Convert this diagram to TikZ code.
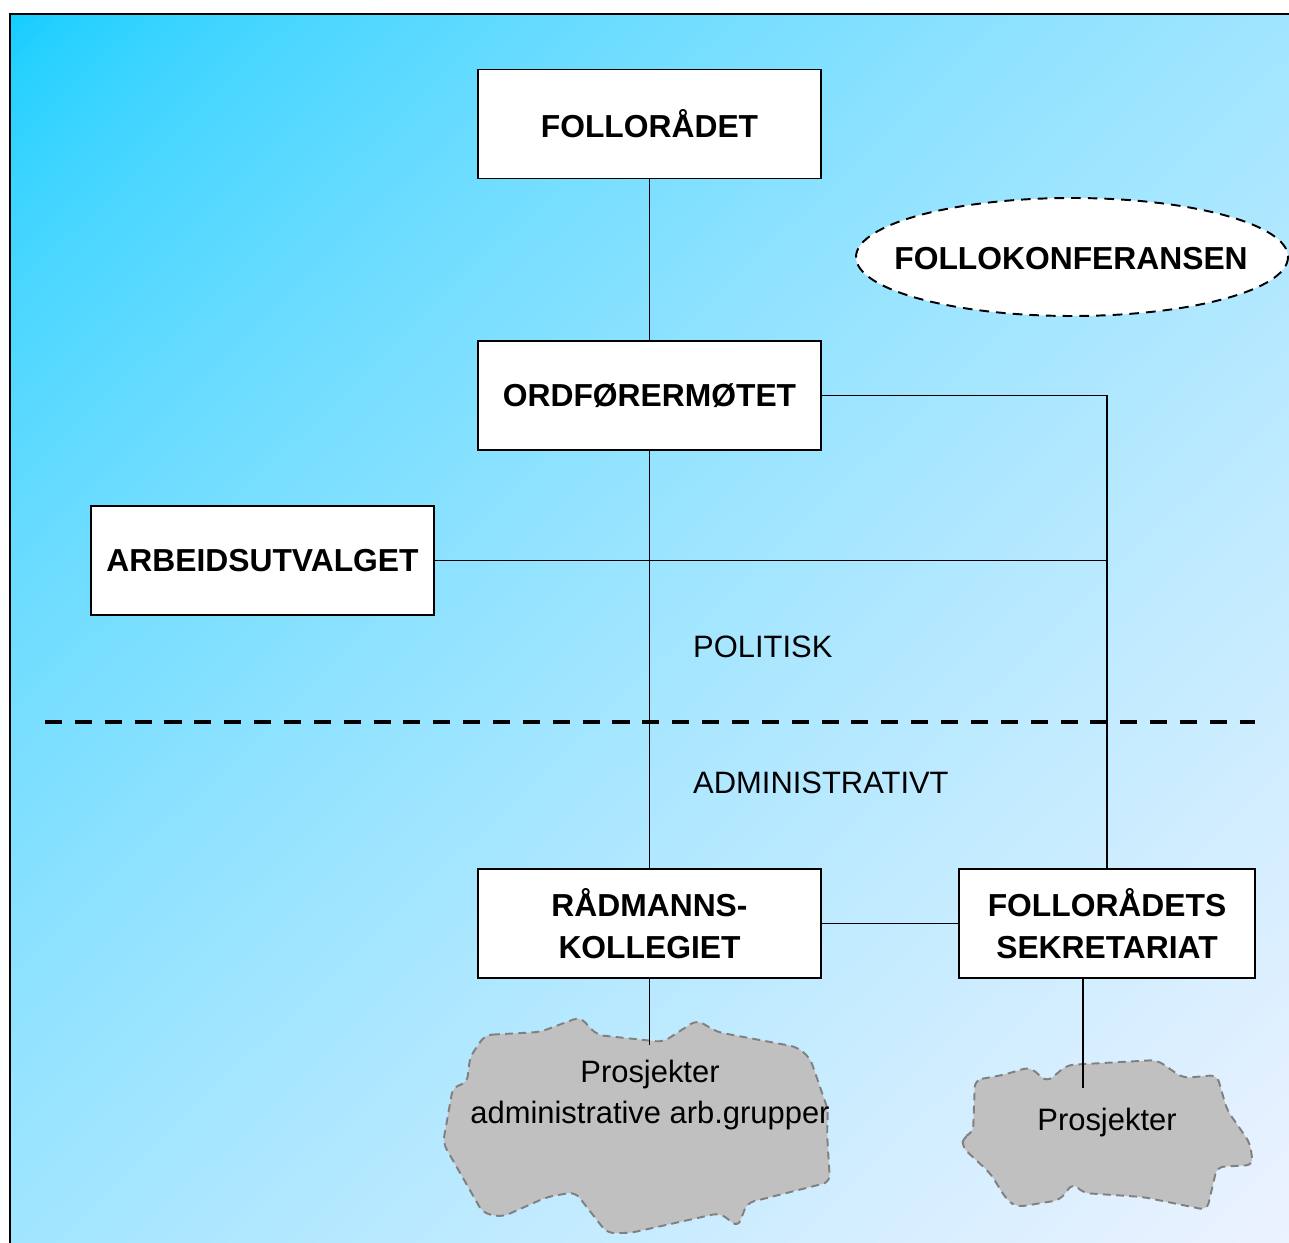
\documentclass[tikz,border=0pt]{standalone}
\usepackage{fontspec}
\setmainfont{Liberation Sans}

\definecolor{cloudgray}{RGB}{192,192,192}
\definecolor{cloudedge}{RGB}{128,128,128}
% diagonal fade: cyan in the upper left corner, almost white in the lower right
\pgfdeclarefunctionalshading{skyfade}{\pgfpoint{0bp}{0bp}}{\pgfpoint{100bp}{100bp}}{}{
  exch sub neg 50 add 100 div
  dup 0 lt {pop 0} if dup 1 gt {pop 1} if
  0.6 exp
  dup 223 mul 13 add 255 div exch 38 mul 204 add 255 div 1
}

\begin{document}
\begin{tikzpicture}[x=0.02cm, y=-0.02cm,
    box/.style={draw, line width=1.1pt, fill=white, minimum width=6.86cm, minimum height=2.18cm,
      align=center, font=\bfseries\fontsize{18.1}{24}\selectfont},
    link/.style={line width=1.1pt},
    cloudline/.style={draw=cloudedge, fill=cloudgray, line width=1.1pt,
      dash pattern=on 4.5pt off 3pt, rounded corners=4pt},
    plain/.style={font=\fontsize{17.6}{23.5}\selectfont, align=center}]
    \useasboundingbox (0,0) rectangle (1289,1243);

    % Draw background
    \shade[shading=skyfade] (10,14) rectangle (1289,1243);
    \draw[line width=1.4pt] (10,1243) -- (10,14) -- (1289,14);

    % Draw clouds
    \draw[cloudline] (485,1035) -- (540,1032) -- (580,1017) -- (597,1035) -- (663,1042)
      -- (697,1020) -- (717,1032) -- (797,1047) -- (810,1058) -- (828,1110) -- (827,1133)
      -- (830,1182) -- (747,1203) -- (738,1227) -- (720,1213) -- (630,1233) -- (607,1233)
      -- (575,1192) -- (547,1197) -- (502,1217) -- (483,1213) -- (443,1143) -- (453,1087)
      -- (467,1083) -- (470,1057) -- cycle;
    \draw[cloudline] (975,1080) -- (1003,1075) -- (1030,1067) -- (1047,1082) -- (1067,1065)
      -- (1157,1060) -- (1183,1078) -- (1217,1075) -- (1227,1110) -- (1250,1143)
      -- (1253,1165) -- (1217,1167) -- (1207,1210) -- (1143,1197) -- (1083,1193)
      -- (1073,1183) -- (1060,1200) -- (1017,1207) -- (1007,1200) -- (990,1173)
      -- (962,1147) -- (963,1137) -- (973,1133) -- cycle;

    % Define points
    \coordinate (prjtop) at (649.5,1045);
    \coordinate (prjtopb) at (1083,1088);
    \coordinate (sepL) at (45,722);
    \coordinate (sepR) at (1255,722);

    % Boxes
    \node[box] (folloraadet) at (649.5,124) {FOLLORÅDET};
    \node[box] (ordforer) at (649.5,395.5) {ORDFØRERMØTET};
    \node[box] (arbeid) at (262.5,560.5) {ARBEIDSUTVALGET};
    \node[box] (raadmann) at (649.5,923.5) {RÅDMANNS-\\KOLLEGIET};
    \node[box, minimum width=5.92cm] (sekretariat) at (1107,923.5) {FOLLORÅDETS\\SEKRETARIAT};

    % Dashed ellipse
    \draw[fill=white, line width=1.1pt, dash pattern=on 5.5pt off 4pt]
      (1072,257) ellipse [x radius=216, y radius=59];
    \node[font=\bfseries\fontsize{18.1}{24}\selectfont] (konferanse) at (1071,259) {FOLLOKONFERANSEN};

    % Draw connecting lines
    \draw[link] (folloraadet) -- (ordforer);
    \draw[link] (ordforer) -- (raadmann);
    \draw[link] (ordforer.east) -| (sekretariat.north);
    \draw[link] (arbeid.east) -- (arbeid.east -| sekretariat.north);
    \draw[link] (raadmann) -- (sekretariat);
    \draw[link] (raadmann.south) -- (prjtop);
    \draw[link] (prjtopb |- sekretariat.south) -- (prjtopb);

    % Draw dividing line
    \draw[line width=2.5pt, dash pattern=on 9.7pt off 7.3pt] (sepL) -- (sepR);

    % Label sides
    \node[plain, anchor=west] (politisk) at (687,647) {POLITISK};
    \node[plain, anchor=west] (admin) at (687,783) {ADMINISTRATIVT};

    % Label clouds
    \node[plain] (prosjekter) at (650,1095) {Prosjekter\\administrative arb.grupper};
    \node[plain] (prosjekterb) at (1107,1123) {Prosjekter};
\end{tikzpicture}
\end{document}
